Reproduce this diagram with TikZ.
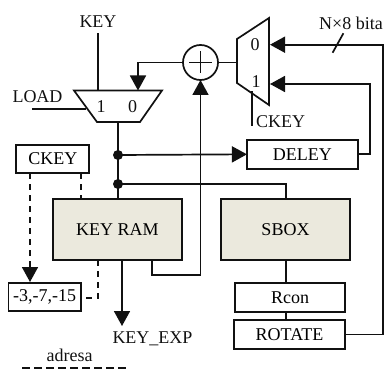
\documentclass[tikz,border=0pt]{standalone}
\usepackage{fontspec}
\setmainfont{Liberation Serif}
\usetikzlibrary{arrows.meta}
\definecolor{ramfill}{HTML}{EBE9DD}
\definecolor{ink}{HTML}{111111}
\tikzset{
  wire/.style={line width=1.7pt,draw=ink,line cap=rect},
  arrowwire/.style={wire,-{Triangle[length=15pt,width=16pt]}},
  dashwire/.style={line width=1.7pt,draw=ink,dash pattern=on 6pt off 5pt},
  dasharrow/.style={dashwire,-{Triangle[length=15pt,width=16pt,sep=0pt]}},
  box/.style={draw=ink,line width=1.7pt,fill=white,inner sep=0pt,outer sep=0pt,font=\fontsize{18}{18}\selectfont},
  ram/.style={box,fill=ramfill,minimum width=129pt,minimum height=61pt},
  lbl/.style={inner sep=0pt,outer sep=0pt,text=ink,font=\fontsize{18}{18}\selectfont},
  dot/.style={circle,fill=ink,inner sep=0pt,minimum size=10pt},
  muxshape/.style={draw=ink,line width=1.7pt,fill=white,line join=miter},
}
\begin{document}
\begin{tikzpicture}[x=1pt,y=-1pt]
\useasboundingbox (0,0) rectangle (386,369);
% boxes
\node[ram] (keyram) at (117.5,229.5) {KEY RAM};
\node[ram] (sbox) at (285.5,229.5) {SBOX};
\node[box,minimum width=110.7pt,minimum height=29pt] (deley) at (302.3,154.3) {DELEY};
\node[box,minimum width=110pt,minimum height=29pt] (rcon) at (290,297.5) {Rcon};
\node[box,minimum width=111pt,minimum height=29pt] (rotate) at (289.5,334.5) {ROTATE};
\node[box,minimum width=73pt,minimum height=28pt] (ckey) at (52.8,159) {CKEY};
\node[box,minimum width=72.7pt,minimum height=28pt] (shift) at (44.7,297) {-3,-7,-15};
\node[draw=ink,line width=1.7pt,circle,minimum size=35pt,inner sep=0pt,outer sep=0pt] (xor) at (200.5,62.5) {};
\coordinate (pl) at (189,62.5);
\coordinate (pr) at (212,62.5);
\coordinate (pt) at (200.5,51.5);
\coordinate (pb) at (200.5,73.5);
\draw[wire,line cap=butt] (pl) -- (pr);
\draw[wire,line cap=butt] (pt) -- (pb);
% muxes
\draw[muxshape] (74,90.5) coordinate (mta) -- (162,90.5) coordinate (mtb) -- (140,122) coordinate (mbb) -- (97,122) coordinate (mba) -- cycle;
\draw[muxshape] (237,39) coordinate (nla) -- (269,18) coordinate (nra) -- (269,105) coordinate (nrb) -- (237,83) coordinate (nlb) -- cycle;
\node[lbl] (mone) at (101,107) {1};
\node[lbl] (mzero) at (132.5,107) {0};
\node[lbl] (nzero) at (255,45) {0};
\node[lbl] (none) at (256,82) {1};
% text labels
\node[lbl] (keylbl) at (98,22) {KEY};
\node[lbl] (loadlbl) at (37.5,97) {LOAD};
\node[lbl,anchor=west] (ckeylbl) at (256,122) {CKEY};
\node[lbl] (bitlbl) at (351,23) {N×8 bita};
\node[lbl] (explbl) at (152.5,339) {KEY\_EXP};
\node[lbl] (adrlbl) at (69.7,355) {adresa};
% free ends and bends
\coordinate (keytop) at (97.7,34);
\coordinate (keyin) at (97.7,90.5);
\coordinate (loadend) at (33,109);
\coordinate (loadin) at (85,109);
\coordinate (fbin) at (138,90.5);
\coordinate (fbbend) at (138,62.5);
\coordinate (mout) at (118,122);
\coordinate (ramtop) at (118,199);
\node[dot] (d1) at (118,155) {};
\node[dot] (d2) at (118,184) {};
\coordinate (sboxbend) at (285.7,184);
\coordinate (sboxtop) at (285.7,199);
\coordinate (sboxbot) at (285.7,260);
\coordinate (rcontop) at (285.7,283);
\coordinate (rconbot) at (285.7,312);
\coordinate (rottop) at (285.7,320);
\coordinate (n0) at (270,44.7);
\coordinate (n1) at (270,84);
\coordinate (b0a) at (382.7,44.7);
\coordinate (b0b) at (382.7,334.5);
\coordinate (b1a) at (370,84);
\coordinate (b1b) at (370,154.3);
\coordinate (ck1) at (251.7,92);
\coordinate (ck2) at (251.7,125);
\coordinate (sl1) at (333,52);
\coordinate (sl2) at (343,34);
\coordinate (r1) at (152,260);
\coordinate (r2) at (152,275);
\coordinate (r3) at (200.5,275);
\coordinate (r4) at (200.5,80);
\coordinate (e1) at (122,260);
\coordinate (e2) at (122,326);
\coordinate (c1) at (30,173);
\coordinate (c2) at (30,282);
\coordinate (c3) at (81,173);
\coordinate (c4) at (81,199);
\coordinate (s1) at (97.7,260);
\coordinate (s2) at (97.7,298);
\coordinate (s3) at (81,298);
\coordinate (a1) at (22,368.3);
\coordinate (a2) at (129,368.3);
% connectors
\draw[wire] (keytop) -- (keyin);
\draw[wire] (loadend) -- (loadin);
\draw[arrowwire] (xor.west) -- (fbbend) -- (fbin);
\draw[wire] (mout) -- (ramtop);
\draw[arrowwire] (d1.center) -- (deley.west);
\draw[wire] (d2.center) -- (sboxbend) -- (sboxtop);
\draw[wire] (xor.east) -- (237,62.5);
\draw[wire] (sboxbot) -- (rcontop);
\draw[wire] (rconbot) -- (rottop);
\draw[arrowwire] (rotate.east) -- (b0b) -- (b0a) -- (n0);
\draw[arrowwire] (deley.east) -- (b1b) -- (b1a) -- (n1);
\draw[wire] (ck1) -- (ck2);
\draw[wire] (sl1) -- (sl2);
\draw[arrowwire] (r1) -- (r2) -- (r3) -- (r4);
\draw[arrowwire] (e1) -- (e2);
\draw[dasharrow] (c1) -- (c2);
\draw[dashwire] (c3) -- (c4);
\draw[dashwire] (s1) -- (s2) -- (s3);
\draw[dashwire,dash pattern=on 8pt off 4pt] (a1) -- (a2);
\end{tikzpicture}
\end{document}
